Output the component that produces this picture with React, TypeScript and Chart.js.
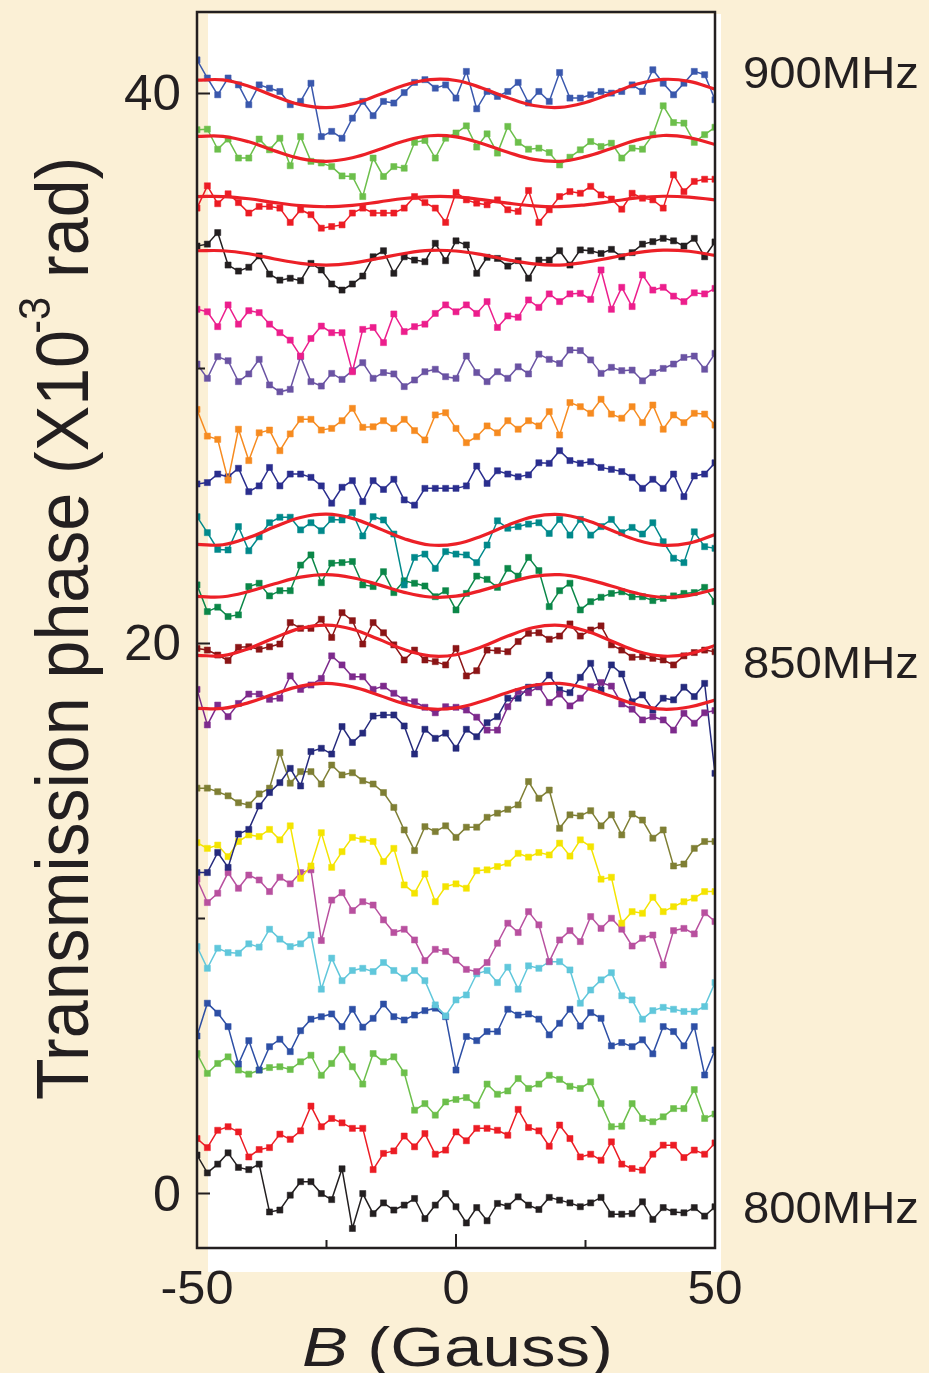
import React, { useEffect, useRef } from "react";
import { Chart, registerables } from "chart.js";

Chart.register(...registerables);

// Magnetic field grid (Gauss) for measured traces and for the fitted curves
const B_GRID = [-50,-48,-46,-44,-42,-40,-38,-36,-34,-32,-30,-28,-26,-24,-22,-20,-18,-16,-14,-12,-10,-8,-6,-4,-2,0,2,4,6,8,10,12,14,16,18,20,22,24,26,28,30,32,34,36,38,40,42,44,46,48,50];
const B_FIT = [-50,-45,-40,-35,-30,-25,-20,-15,-10,-5,0,5,10,15,20,25,30,35,40,45,50];

// Transmission phase (x10^-3 rad), traces offset by frequency (800..900 MHz, 5 MHz step)
const T900 = [41.22,40.56,39.95,40.56,40.31,39.59,40.31,40.19,40.07,39.59,39.71,40.37,38.43,38.62,38.37,39.10,39.71,39.19,39.71,39.65,40.03,40.40,40.50,40.19,40.31,39.83,40.80,39.44,40.07,39.89,40.07,40.40,39.65,40.07,39.71,40.76,39.83,39.83,39.95,40.07,40.01,40.07,40.31,40.07,40.86,40.37,39.95,40.37,40.80,40.68,39.77];
const T895 = [38.68,38.70,37.97,38.34,37.65,37.65,38.34,37.95,38.37,37.37,38.43,37.53,37.47,37.34,37.00,36.98,36.25,37.65,36.98,37.34,37.28,38.22,38.29,37.65,38.37,38.56,38.82,38.05,38.53,37.83,38.80,38.22,37.97,38.01,37.85,37.40,37.68,37.95,38.25,38.07,38.19,37.65,38.01,37.97,38.50,39.55,38.94,38.92,38.22,38.50,38.77];
const T890 = [35.83,36.64,35.99,36.35,36.03,35.65,35.89,35.89,35.83,35.31,35.77,35.59,35.10,35.16,35.22,35.65,35.83,35.65,35.65,35.65,35.83,36.25,36.03,35.83,35.31,36.40,36.13,36.01,35.95,36.13,35.77,35.71,36.47,35.31,35.77,36.25,36.43,36.37,36.62,36.31,36.16,35.79,36.37,36.19,36.13,35.83,37.04,36.43,36.80,36.88,36.88];
const T885 = [34.45,34.52,34.94,33.76,33.54,33.68,34.09,33.43,33.21,33.28,33.19,33.82,33.58,33.07,32.85,33.07,33.36,34.06,34.28,33.46,34.06,33.94,33.88,34.55,33.92,34.64,34.49,33.46,34.04,34.00,33.72,33.92,33.28,33.94,33.94,34.28,33.76,34.31,34.28,34.18,34.33,34.06,34.21,34.52,34.61,34.73,34.64,34.45,34.73,34.06,34.60];
const T880 = [32.15,32.06,31.52,32.31,31.61,32.10,32.03,31.61,31.30,31.03,30.45,31.09,31.54,31.30,31.30,29.88,31.42,31.49,30.94,31.98,31.34,31.52,31.61,32.00,32.31,32.06,32.31,32.00,32.43,31.49,31.91,31.86,32.49,32.22,32.71,32.43,32.71,32.73,32.51,33.58,32.15,32.95,32.25,33.40,32.85,32.95,32.63,32.43,32.75,32.71,32.91];
const T875 = [30.16,29.64,30.43,30.28,29.52,29.80,30.33,29.40,29.15,29.24,30.43,29.52,29.36,29.82,29.60,29.92,30.21,29.64,29.85,29.80,29.34,29.58,29.88,29.97,29.70,29.64,30.45,29.85,29.52,29.88,29.64,30.06,29.80,30.52,30.33,30.18,30.67,30.65,30.31,29.82,30.04,29.92,29.94,29.55,29.85,30.00,30.16,30.40,30.45,29.97,30.55];
const T870 = [28.51,27.54,27.42,25.94,27.79,26.65,27.66,27.76,27.01,27.62,28.15,28.15,27.76,27.82,28.10,28.55,27.86,27.88,28.10,27.82,28.15,27.74,27.40,28.31,28.39,27.82,27.30,27.52,27.91,27.66,28.10,27.79,28.10,27.91,28.43,27.58,28.76,28.61,28.37,28.88,28.34,28.19,28.61,28.03,28.67,27.79,28.31,28.03,28.37,28.34,27.94];
const T865 = [25.80,25.85,26.16,26.06,26.37,25.52,25.73,26.40,25.73,26.16,26.16,26.04,25.73,25.10,25.68,25.92,25.16,25.92,25.60,25.97,25.22,25.03,25.64,25.64,25.64,25.64,25.73,26.45,25.82,26.28,26.16,26.06,26.13,26.57,26.55,27.01,26.65,26.55,26.61,26.40,26.33,26.25,26.04,25.64,25.97,25.64,26.16,25.34,26.09,26.16,26.57];
const T860 = [24.61,24.03,23.42,23.40,24.25,23.37,23.88,24.39,24.59,24.59,24.13,24.39,24.10,24.51,24.49,24.76,23.91,24.61,24.49,23.98,22.13,23.13,23.25,22.73,23.34,23.25,23.22,22.94,23.58,24.46,24.19,24.25,24.34,24.39,24.00,24.51,23.94,24.51,23.94,24.25,24.51,24.03,24.22,23.98,24.39,23.70,23.10,22.94,24.06,23.52,23.46];
const T855 = [22.13,21.16,21.32,20.98,21.04,22.07,22.19,21.73,21.92,21.92,22.85,23.22,22.21,22.92,22.94,22.98,22.13,22.07,22.61,21.85,22.28,22.19,22.09,21.70,21.92,21.22,21.82,22.45,22.33,22.04,22.73,22.45,23.13,22.65,21.34,21.92,22.19,21.22,21.52,21.68,21.82,21.88,21.70,21.70,21.56,21.64,21.73,21.82,21.85,22.04,21.52];
const T850 = [19.82,19.76,19.58,19.38,19.86,19.88,19.79,19.88,19.98,20.76,20.55,20.55,20.88,20.22,21.12,20.83,19.98,20.76,20.39,19.95,19.40,19.76,19.40,19.34,19.22,19.82,18.82,19.01,19.76,19.74,19.70,20.07,20.37,20.39,20.15,20.27,20.71,20.27,20.49,20.64,19.95,19.76,19.50,19.52,19.46,19.40,19.22,19.55,19.67,19.76,19.70];
const T845 = [18.33,17.04,17.76,17.34,17.82,18.16,18.16,17.97,18.01,18.82,18.33,18.49,18.73,19.55,19.22,18.79,18.79,18.33,18.45,18.19,17.95,17.88,17.68,17.48,17.70,17.68,17.58,17.32,16.85,16.85,17.70,18.25,18.21,18.43,17.85,18.16,17.73,18.01,18.43,18.58,18.45,17.80,17.61,17.22,17.34,17.22,16.85,17.46,17.10,17.48,17.56];
const T840 = [11.67,11.67,12.40,11.86,13.07,13.24,14.09,14.58,14.94,15.46,14.82,16.07,16.19,15.98,16.98,16.40,16.74,17.36,17.40,17.40,17.00,15.98,16.88,16.55,16.74,16.19,16.88,16.61,17.12,17.34,18.01,18.01,18.41,18.43,18.85,18.31,18.21,18.77,19.28,18.31,19.22,18.89,17.88,18.13,17.58,18.01,17.95,18.41,18.07,18.55,15.28];
const T835 = [14.74,14.74,14.61,14.46,14.21,14.13,14.53,14.74,16.03,14.92,15.34,15.34,14.89,15.58,15.22,15.30,15.01,14.89,14.58,14.04,13.22,12.47,13.34,13.16,13.37,12.95,13.32,13.32,13.68,13.83,13.97,14.13,14.98,14.37,14.67,13.28,13.77,13.73,13.92,13.37,13.77,13.04,13.80,13.58,12.92,13.22,11.91,11.98,12.55,12.80,12.80];
const T830 = [12.76,12.55,12.67,12.25,12.80,13.04,12.98,13.24,12.86,13.37,11.46,11.91,13.12,11.86,12.43,12.95,12.88,12.80,12.07,12.55,11.22,10.92,11.62,10.61,11.16,11.26,11.10,11.74,11.77,11.89,12.01,12.37,12.23,12.40,12.31,12.74,12.27,12.86,12.61,11.43,11.50,9.83,10.25,10.19,10.77,10.25,10.43,10.61,10.74,10.98,10.98];
const T825 = [11.43,10.58,10.92,11.67,11.10,11.58,11.40,10.98,11.50,11.26,11.67,11.77,9.20,10.67,10.94,10.29,10.61,10.49,9.95,9.49,9.61,9.22,8.47,8.88,8.80,8.49,8.15,8.07,8.40,9.10,9.83,9.49,10.25,9.77,8.43,9.22,9.56,9.16,10.07,9.64,10.01,9.61,9.00,9.28,9.40,8.31,9.56,9.64,9.44,10.21,9.89];
const T820 = [8.98,8.19,8.92,8.76,8.74,9.08,8.96,9.61,9.25,8.98,9.08,9.40,7.43,8.56,7.74,8.11,8.19,8.07,8.40,8.11,7.83,8.11,7.74,6.86,6.46,7.04,7.22,7.99,8.11,7.67,8.23,7.43,8.28,8.19,8.43,8.43,8.13,6.92,7.40,7.77,8.03,7.19,7.04,6.34,6.65,6.77,6.70,6.62,6.62,6.80,7.67];
const T815 = [5.73,6.92,6.56,6.07,4.71,5.56,4.49,5.34,5.61,5.16,5.92,6.34,6.43,6.53,6.07,6.70,6.05,6.37,6.89,6.43,6.31,6.49,6.65,6.74,6.43,4.49,5.71,5.56,5.89,5.89,6.70,6.49,6.53,6.34,5.77,6.19,6.70,6.09,6.58,6.37,5.37,5.49,5.34,5.59,5.08,6.07,5.89,5.37,6.07,4.31,5.22];
const T810 = [5.09,4.37,4.73,4.97,4.49,4.34,4.49,4.58,4.61,4.51,4.79,5.03,4.30,4.73,5.24,4.61,3.98,5.09,4.79,4.97,4.39,3.03,3.27,2.85,3.33,3.42,3.49,3.21,3.98,3.61,3.73,4.18,3.82,3.98,4.30,4.15,3.90,3.82,4.06,3.27,2.43,2.45,3.27,2.73,2.61,2.79,3.09,3.09,3.78,2.73,2.89];
const T805 = [2.00,1.67,2.30,2.43,2.24,1.33,1.60,1.67,2.16,1.97,2.28,3.18,2.43,2.73,2.57,2.37,2.37,0.87,1.46,1.55,2.09,1.70,2.18,1.43,1.58,2.24,1.92,2.37,2.37,2.30,2.12,3.06,2.40,2.28,1.72,2.49,2.00,1.33,1.43,1.21,1.88,1.07,0.91,0.85,1.43,1.76,1.76,1.31,1.58,1.43,1.84];
const T800 = [1.40,0.75,1.07,1.48,0.95,0.87,1.07,-0.67,-0.60,-0.06,0.43,0.43,0.00,-0.22,0.90,-1.27,0.00,-0.73,-0.34,-0.60,-0.42,-0.18,-0.91,-0.42,0.00,-0.48,-1.07,-0.51,-0.99,-0.36,-0.46,-0.12,-0.42,-0.58,-0.14,-0.24,-0.34,-0.48,-0.34,-0.14,-0.75,-0.75,-0.73,-0.30,-0.94,-0.51,-0.67,-0.70,-0.51,-0.82,-0.48];

// Fitted sinusoidal curves (red)
const FIT900 = [40.48,40.49,40.26,39.90,39.59,39.48,39.62,39.94,40.30,40.50,40.47,40.20,39.84,39.56,39.49,39.67,40.00,40.34,40.51,40.44,40.15];
const FIT895 = [38.44,38.44,38.24,37.91,37.63,37.53,37.66,37.95,38.27,38.46,38.42,38.18,37.86,37.60,37.53,37.70,38.00,38.31,38.47,38.39,38.14];
const FIT890 = [36.25,36.25,36.17,36.03,35.92,35.88,35.93,36.05,36.18,36.25,36.24,36.14,36.01,35.91,35.88,35.95,36.07,36.20,36.26,36.23,36.13];
const FIT885 = [34.28,34.28,34.17,33.98,33.82,33.76,33.83,34.00,34.18,34.29,34.27,34.14,33.95,33.80,33.76,33.86,34.03,34.21,34.30,34.26,34.11];
const FIT860 = [23.60,23.59,23.85,24.24,24.58,24.70,24.55,24.19,23.81,23.58,23.62,23.91,24.30,24.61,24.69,24.49,24.12,23.75,23.57,23.65,23.96];
const FIT855 = [21.71,21.70,21.89,22.17,22.41,22.50,22.39,22.14,21.86,21.69,21.72,21.93,22.21,22.44,22.50,22.35,22.09,21.82,21.68,21.75,21.97];
const FIT850 = [19.57,19.56,19.82,20.21,20.55,20.67,20.52,20.16,19.78,19.55,19.59,19.88,20.27,20.58,20.66,20.46,20.09,19.72,19.54,19.62,19.93];
const FIT845 = [17.64,17.64,17.85,18.17,18.45,18.55,18.42,18.13,17.81,17.62,17.66,17.90,18.22,18.48,18.55,18.38,18.08,17.77,17.61,17.69,17.94];

const TRACES = [T900,T895,T890,T885,T880,T875,T870,T865,T860,T855,T850,T845,T840,T835,T830,T825,T820,T815,T810,T805,T800];
const TRACE_COLORS = ["#3a58ad","#6cbf4b","#ec1c24","#231f20","#ec1e8c","#6a53a3","#f68b20","#2a2e8e","#00898b","#0b8748","#8b1516","#7d2a8c","#252a7c","#7f7f34","#f4e400","#b8509f","#60c7db","#2d4fa5","#6cbf4b","#ec1c24","#231f20"];
const FITS = [FIT900,FIT895,FIT890,FIT885,FIT860,FIT855,FIT850,FIT845];

const Y_MAJOR_TICKS = [0, 20, 40];
const Y_MINOR_TICKS = [10, 30];
const X_TICK_LABELS = [-50, 0, 50];
const X_MINOR_TICKS = [-25, 25];
const FREQ_LABELS = ["900MHz", "850MHz", "800MHz"];
const FREQ_LABEL_VALUES = [40.78, 19.33, -0.49];

const FONT = '"Liberation Sans", Arial, Helvetica, sans-serif';
const INK = "#231f20";

function drawScaledText(ctx: CanvasRenderingContext2D, text: string, x: number, y: number, font: string, targetWidth: number, align: "left" | "center" | "right") {
  ctx.save();
  ctx.font = font;
  const w = ctx.measureText(text).width;
  const sx = targetWidth / w;
  let x0 = x;
  if (align === "center") x0 = x - targetWidth / 2;
  if (align === "right") x0 = x - targetWidth;
  ctx.translate(x0, y);
  ctx.scale(sx, 1);
  ctx.textAlign = "left";
  ctx.textBaseline = "alphabetic";
  ctx.fillText(text, 0, 0);
  ctx.restore();
}

const backgroundPlugin = {
  id: "paperBackground",
  beforeDraw(chart: any) {
    const ctx = chart.ctx as CanvasRenderingContext2D;
    ctx.save();
    ctx.fillStyle = "#fbf0d6";
    ctx.fillRect(0, 0, chart.width, chart.height);
    ctx.fillStyle = "#ffffff";
    ctx.fillRect(208, 14, 513, 1258);
    ctx.restore();
  },
};

const framePlugin = {
  id: "frameAndText",
  afterDraw(chart: any) {
    const ctx = chart.ctx as CanvasRenderingContext2D;
    const { left, right, top, bottom } = chart.chartArea;
    const xs = chart.scales.x;
    const ys = chart.scales.y;
    ctx.save();
    ctx.strokeStyle = INK;
    ctx.fillStyle = INK;
    ctx.lineWidth = 2.5;
    ctx.strokeRect(left, top, right - left, bottom - top);
    ctx.lineWidth = 2;
    ctx.beginPath();
    Y_MAJOR_TICKS.forEach((v) => {
      const y = ys.getPixelForValue(v);
      ctx.moveTo(left, y);
      ctx.lineTo(left + 13, y);
    });
    Y_MINOR_TICKS.forEach((v) => {
      const y = ys.getPixelForValue(v);
      ctx.moveTo(left, y);
      ctx.lineTo(left + 8, y);
    });
    [0].forEach((v) => {
      const x = xs.getPixelForValue(v);
      ctx.moveTo(x, bottom);
      ctx.lineTo(x, bottom - 14);
    });
    X_MINOR_TICKS.forEach((v) => {
      const x = xs.getPixelForValue(v);
      ctx.moveTo(x, bottom);
      ctx.lineTo(x, bottom - 8);
    });
    ctx.stroke();

    // y tick labels
    Y_MAJOR_TICKS.forEach((v) => {
      const y = ys.getPixelForValue(v);
      const t = String(v);
      drawScaledText(ctx, t, 181, y + 17, `50px ${FONT}`, t.length === 1 ? 28 : 57, "right");
    });
    // x tick labels
    X_TICK_LABELS.forEach((v) => {
      const x = xs.getPixelForValue(v);
      const t = String(v);
      const w = t.length === 1 ? 27 : t.length === 2 ? 55 : 73;
      drawScaledText(ctx, t, x, 1304, `48px ${FONT}`, w, "center");
    });
    // right frequency labels
    FREQ_LABELS.forEach((t, i) => {
      const y = ys.getPixelForValue(FREQ_LABEL_VALUES[i]);
      drawScaledText(ctx, t, 743, y + 16, `45px ${FONT}`, 176, "left");
    });

    // x axis title: "B (Gauss)" with italic B
    ctx.save();
    const fB = `italic 56px ${FONT}`;
    const fR = `56px ${FONT}`;
    ctx.font = fB;
    const wB = ctx.measureText("B").width;
    ctx.font = fR;
    const wR = ctx.measureText(" (Gauss)").width;
    const sx = 311 / (wB + wR);
    ctx.translate(302, 1366);
    ctx.scale(sx, 1);
    ctx.textBaseline = "alphabetic";
    ctx.textAlign = "left";
    ctx.font = fB;
    ctx.fillText("B", 0, 0);
    ctx.font = fR;
    ctx.fillText(" (Gauss)", wB, 0);
    ctx.restore();

    // y axis title, rotated, with superscript
    ctx.save();
    const mainT = "Transmission phase (X10";
    const supT = "-3";
    const endT = " rad)";
    const fMain = `74px ${FONT}`;
    const fSup = `45px ${FONT}`;
    ctx.translate(88, 1100);
    ctx.rotate(-Math.PI / 2);
    ctx.font = fMain;
    const wMain = ctx.measureText(mainT).width;
    const sy = 770 / wMain;
    ctx.scale(sy, 1);
    ctx.textBaseline = "alphabetic";
    ctx.textAlign = "left";
    ctx.fillText(mainT, 0, 0);
    ctx.font = fSup;
    const wSup = ctx.measureText(supT).width;
    ctx.fillText(supT, wMain - 4, -38);
    ctx.font = fMain;
    ctx.fillText(endT, wMain - 4 + wSup, 0);
    ctx.restore();

    ctx.restore();
  },
};

export default function App() {
  const canvasRef = useRef<HTMLCanvasElement | null>(null);

  useEffect(() => {
    if (!canvasRef.current) return;
    const traceSets = TRACES.map((arr, i) => ({
      label: `trace${i}`,
      data: arr.map((v, j) => ({ x: B_GRID[j], y: v })),
      borderColor: TRACE_COLORS[i],
      backgroundColor: TRACE_COLORS[i],
      borderWidth: 1.5,
      pointStyle: "rect" as const,
      pointRadius: 4.3,
      pointBorderWidth: 0.5,
      pointBorderColor: TRACE_COLORS[i],
      pointBackgroundColor: TRACE_COLORS[i],
      tension: 0,
      order: 1,
    }));
    const fitSets = FITS.map((arr, i) => ({
      label: `fit${i}`,
      data: arr.map((v, j) => ({ x: B_FIT[j], y: v })),
      borderColor: "#ec2027",
      backgroundColor: "#ec2027",
      borderWidth: 3.2,
      pointRadius: 0,
      tension: 0.4,
      order: 0,
    }));
    const chart = new Chart(canvasRef.current, {
      type: "line",
      data: { datasets: [...fitSets, ...traceSets] as any },
      options: {
        animation: false,
        responsive: false,
        devicePixelRatio: 1,
        parsing: true,
        layout: { padding: { left: 197, right: 214, top: 12, bottom: 125 } },
        scales: {
          x: { type: "linear", min: -50, max: 50, display: false },
          y: { type: "linear", min: -1.98, max: 42.96, display: false },
        },
        plugins: {
          legend: { display: false },
          tooltip: { enabled: false },
          title: { display: false },
        },
        events: [],
      },
      plugins: [backgroundPlugin, framePlugin],
    });
    return () => chart.destroy();
  }, []);

  return (
    <div style={{ position: "absolute", left: 0, top: 0, width: 929, height: 1373 }}>
      <canvas ref={canvasRef} width={929} height={1373} style={{ display: "block", width: 929, height: 1373 }} />
    </div>
  );
}
